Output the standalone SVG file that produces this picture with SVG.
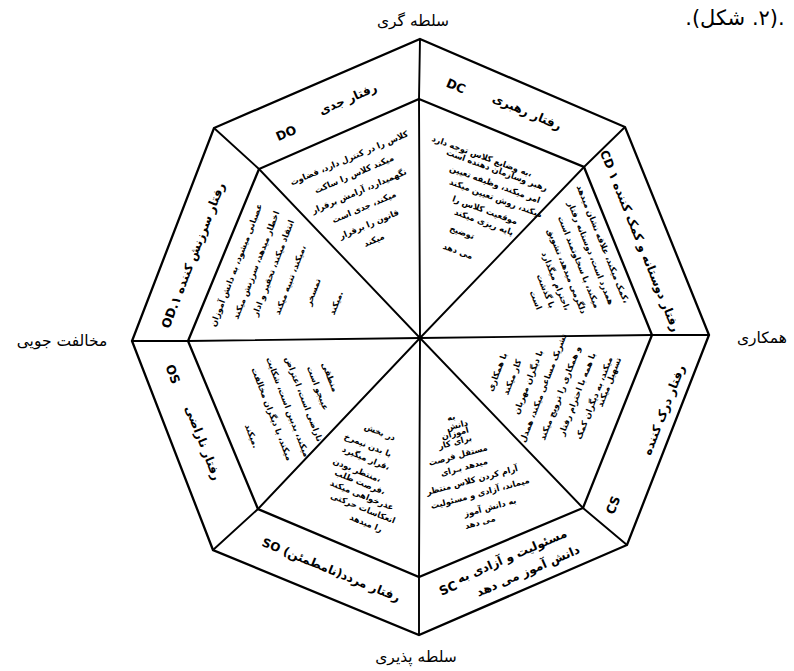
<svg xmlns="http://www.w3.org/2000/svg" width="794" height="671" viewBox="0 0 794 671">
<style>
.ln{fill:none;stroke:#000;stroke-width:2.3;stroke-linejoin:miter}
.rd{fill:none;stroke:#000;stroke-width:1.9}
.out{font-family:"DejaVu Sans",sans-serif;font-size:15.5px;fill:#000;text-anchor:middle}
.hd{font-family:"DejaVu Sans",sans-serif;font-size:21px;fill:#000;text-anchor:middle}
.band{font-family:"DejaVu Sans",sans-serif;font-size:12px;font-weight:bold;fill:#000;text-anchor:middle;dominant-baseline:central}
.code{font-family:"DejaVu Sans",sans-serif;font-size:12.5px;font-weight:bold;fill:#000;text-anchor:middle;dominant-baseline:central}
.sm{font-family:"DejaVu Sans",sans-serif;font-size:8.3px;font-weight:bold;fill:#000;text-anchor:middle;dominant-baseline:central}
</style>
<rect width="794" height="671" fill="#fff"/>

<g id="connectors">
<polygon class="ln" points="420,39 625,127 709,335 627,545 419,635 213,550 132,341 214,128"/>
<polygon class="ln" points="419,99 584,167 652,335 583,508 419,577 258,509 188,341 259,169"/>
<polyline class="rd" points="420,338 419,99 420,39"/>
<polyline class="rd" points="420,338 584,167 625,127"/>
<polyline class="rd" points="420,338 652,335 709,335"/>
<polyline class="rd" points="420,338 583,508 627,545"/>
<polyline class="rd" points="420,338 419,577 419,635"/>
<polyline class="rd" points="420,338 258,509 213,550"/>
<polyline class="rd" points="420,338 188,341 132,341"/>
<polyline class="rd" points="420,338 259,169 214,128"/>
</g>

<g id="titles">
<text class="hd" x="735" y="25" direction="rtl">.(۲. شکل).</text>
<text class="out" x="413" y="26">سلطه گری</text>
<text class="out" x="762" y="343">همکاری</text>
<text class="out" x="62" y="346">مخالفت جویی</text>
<text class="out" x="416" y="662">سلطه پذیری</text>
</g>

<g id="node-DO">
<text class="band" transform="translate(348,99) rotate(-23.4)">رفتار جدی</text>
<text class="code" transform="translate(286,133) rotate(-23.4)">DO</text>
<g class="sm">
<text transform="translate(349,158) rotate(-23)">کلاس را در کنترل دارد، قضاوت</text>
<text transform="translate(354,174) rotate(-23)">میکند کلاس را ساکت</text>
<text transform="translate(359,191) rotate(-23)">نگهمیدارد، آرامش برقرار</text>
<text transform="translate(364,207) rotate(-23)">میکند، جدی است</text>
<text transform="translate(369,224) rotate(-23)">قانون را برقرار</text>
<text transform="translate(374,240) rotate(-23)">میکند</text>
</g>
</g>

<g id="node-DC">
<text class="code" transform="translate(456,86) rotate(23.2)">DC</text>
<text class="band" transform="translate(527,112) rotate(23.2)">رفتار رهبری</text>
<g class="sm">
<text transform="translate(482,156) rotate(20)">به وضایع کلاس توجه دارد،</text>
<text transform="translate(497,170) rotate(20)">رهبر وسازمان دهنده است</text>
<text transform="translate(495,184) rotate(20)">امر میکند، وظیفه تعیین</text>
<text transform="translate(496,198) rotate(20)">میکند، روش تعیین میکند</text>
<text transform="translate(485,210) rotate(20)">موقعیت کلاس را</text>
<text transform="translate(484,222) rotate(20)">پایه ریزی میکند</text>
<text transform="translate(462,232) rotate(20)">توضیح</text>
<text transform="translate(458,251) rotate(20)">می دهد</text>
</g>
</g>

<g id="node-CD">
<text class="band" direction="rtl" transform="translate(640,241) rotate(68)">رفتار دوستانه و کمک کننده ۱ CD</text>
<g class="sm">
<text transform="translate(603,244) rotate(68)">کمک میکند، علاقه نشان میدهد،</text>
<text transform="translate(591,253) rotate(68)">همدرد است، دوستانه رفتار</text>
<text transform="translate(579,262) rotate(68)">میکند، با سخاوتمند است</text>
<text transform="translate(567,271) rotate(68)">دلگرمی میدهد، تشویق</text>
<text transform="translate(556,281) rotate(68)">احترام میگذارد،</text>
<text transform="translate(546,291) rotate(68)">با گذشت</text>
<text transform="translate(536,300) rotate(68)">است</text>
</g>
</g>

<g id="node-CS">
<text class="band" transform="translate(664,410) rotate(-68.7)">رفتار درک کننده</text>
<text class="code" transform="translate(613,505) rotate(-68.7)">CS</text>
<g class="sm">
<text transform="translate(497,372) rotate(-68.7)">با همکاری</text>
<text transform="translate(512,377) rotate(-68.7)">کار میکند</text>
<text transform="translate(528,382) rotate(-68.7)">با دیگران مهربان</text>
<text transform="translate(543,388) rotate(-68.7)">تشریک مساعی میکند، همدل</text>
<text transform="translate(560,393) rotate(-68.7)">و همکاری را ترویج میکند</text>
<text transform="translate(577,394) rotate(-68.7)">با همه با احترام رفتار</text>
<text transform="translate(594,398) rotate(-68.7)">میکند، به دیگران کمک</text>
<text transform="translate(609,382) rotate(-68.7)">تسهیل میکند</text>
</g>
</g>

<g id="node-SC">
<text class="band" transform="translate(512,556) rotate(-23.4)">مسئولیت و آزادی به</text>
<text class="band" transform="translate(528,571) rotate(-23.4)">دانش آموز می دهد</text>
<text class="code" transform="translate(448,588) rotate(-23.4)">SC</text>
<g class="sm">
<text transform="translate(451,417) rotate(-15)">به</text>
<text transform="translate(457,425) rotate(-15)">دانش</text>
<text transform="translate(455,433) rotate(-15)">آموزان</text>
<text transform="translate(455,442) rotate(-15)">برای کار</text>
<text transform="translate(458,455) rotate(-15)">مستقل فرصت</text>
<text transform="translate(464,467) rotate(-15)">میدهد بـرای</text>
<text transform="translate(472,480) rotate(-15)">آرام کردن کلاس منتظر</text>
<text transform="translate(480,493) rotate(-15)">میماند، آزادی و مسئولیت</text>
<text transform="translate(490,507) rotate(-15)">به دانش آموز</text>
<text transform="translate(480,522) rotate(-15)">می دهد</text>
</g>
</g>

<g id="node-SO">
<text class="band" direction="rtl" transform="translate(331,570) rotate(22.4)">رفتار مردد(نامطمئن) SO</text>
<g class="sm">
<text transform="translate(380,432) rotate(22)">در بخش</text>
<text transform="translate(368,445) rotate(22)">با بدن نیمرخ</text>
<text transform="translate(366,458) rotate(22)">قرار میگیرد،</text>
<text transform="translate(357,470) rotate(22)">منتظر بودن،</text>
<text transform="translate(360,482) rotate(22)">فرصت طلب،</text>
<text transform="translate(362,495) rotate(22)">عذرخواهی میکند</text>
<text transform="translate(363,508) rotate(22)">انعکاسات حرکتی</text>
<text transform="translate(366,523) rotate(22)">را میدهد</text>
</g>
</g>

<g id="node-OS">
<text class="band" transform="translate(203,443) rotate(68.8)">رفتار ناراضی</text>
<text class="code" transform="translate(173,374) rotate(68.8)">OS</text>
<g class="sm">
<text transform="translate(330,377) rotate(68.8)">منطقی</text>
<text transform="translate(318,388) rotate(68.8)">عیبجو است</text>
<text transform="translate(304,399) rotate(68.8)">ناراضی است، اعتراض</text>
<text transform="translate(288,407) rotate(68.8)">میکند، بدبین است، شکایت</text>
<text transform="translate(272,414) rotate(68.8)">میکند، با دیگران مخالفت</text>
<text transform="translate(252,436) rotate(68.8)">میکند.</text>
</g>
</g>

<g id="node-OD">
<text class="band" transform="translate(200,238) rotate(-68.9)">رفتار سرزنش کننده</text>
<text class="code" transform="translate(171,312) rotate(-68.9)">OD.۱</text>
<g class="sm">
<text transform="translate(236,265) rotate(-68.9)">عصبانی میشود، به دانش آموزان</text>
<text transform="translate(256,265) rotate(-68.9)">اخطار میدهد، سرزنش میکند</text>
<text transform="translate(273,268) rotate(-68.9)">انتقاد میکند، تحقیر و ادار</text>
<text transform="translate(290,280) rotate(-68.9)">میکند، تنبیه میکند،</text>
<text transform="translate(313,292) rotate(-68.9)">تمسخر</text>
<text transform="translate(336,303) rotate(-68.9)">میکند.</text>
</g>
</g>
</svg>
